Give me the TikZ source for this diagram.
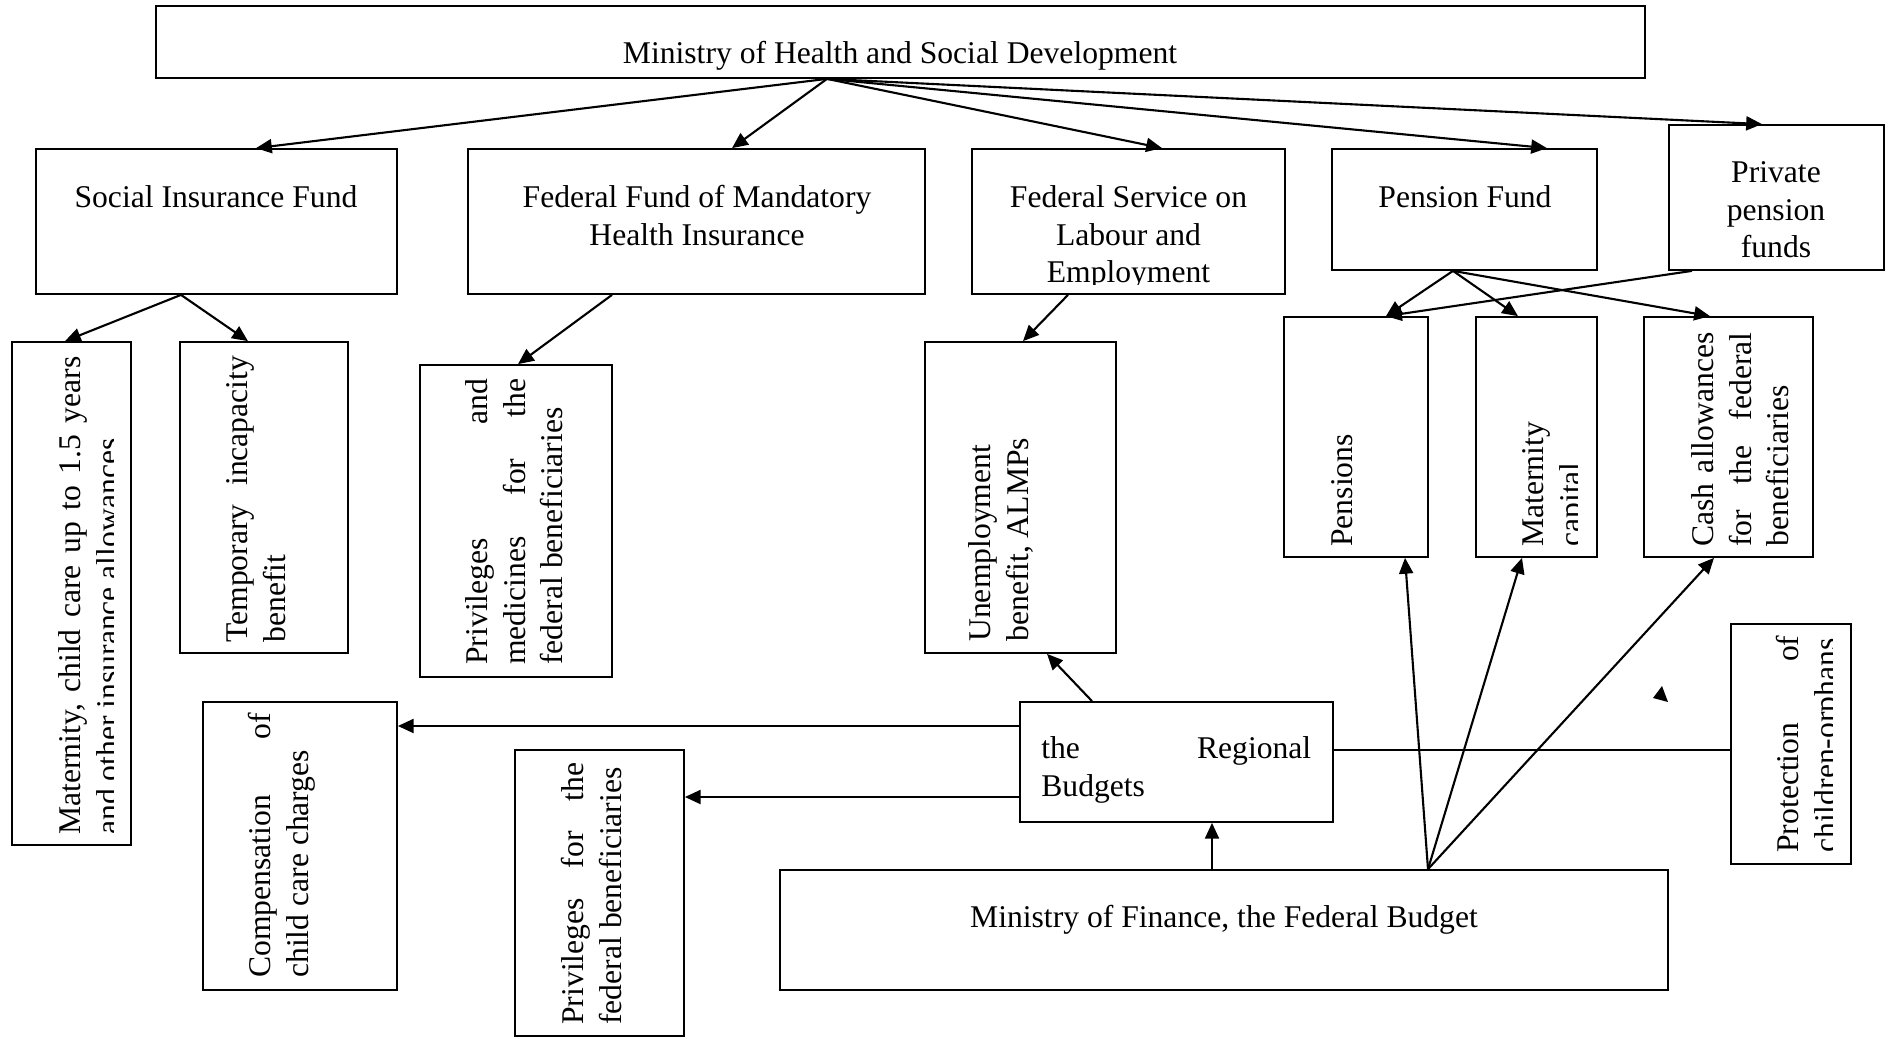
\documentclass[tikz,border=0pt]{standalone}
\usepackage{fontspec}
\setmainfont{Liberation Serif}
\usetikzlibrary{arrows.meta,fit}
\tikzset{
  box/.style={draw, line width=1pt, inner sep=0pt},
  arr/.style={line width=1.2pt, -{Triangle[length=9pt,width=8pt]}},
  plainline/.style={line width=1.2pt},
  txt/.style={inner sep=0pt, font=\fontsize{18}{21.3}\selectfont\frenchspacing},
  vtxt/.style={txt, rotate=90, anchor=north west, align=left},
}
\begin{document}
\begin{tikzpicture}[x=0.02cm, y=-0.02cm]
\path[fill=white, use as bounding box] (0,0) rectangle (1890,1038);

% ---------- boxes ----------
\node[box, fit={(156,6) (1645,78)}] (mohsd) {};
\node[box, fit={(36,149) (397,294)}] (sif) {};
\node[box, fit={(468,149) (925,294)}] (ffm) {};
\node[box, fit={(972,149) (1285,294)}] (fsle) {};
\node[box, fit={(1332,149) (1597,270)}] (pf) {};
\node[box, fit={(1669,125) (1884,270)}] (ppf) {};

\node[box, fit={(12,342) (131,845)}] (mat) {};
\node[box, fit={(180,342) (348,653)}] (tmp) {};
\node[box, fit={(420,365) (612,677)}] (priv1) {};
\node[box, fit={(925,342) (1116,653)}] (unemp) {};
\node[box, fit={(1284,317) (1428,557)}] (pens) {};
\node[box, fit={(1476,317) (1597,557)}] (matcap) {};
\node[box, fit={(1644,317) (1813,557)}] (cash) {};

\node[box, fit={(1020,702) (1333,822)}] (reg) {};
\node[box, fit={(780,870) (1668,990)}] (mof) {};
\node[box, fit={(203,702) (397,990)}] (comp) {};
\node[box, fit={(515,750) (684,1036)}] (priv2) {};
\node[box, fit={(1731,624) (1851,864)}] (prot) {};

% ---------- horizontal texts ----------
\node[txt, anchor=base] (tmohsd) at (900,63) {Ministry of Health and Social Development};
\node[txt, anchor=base] (tsif) at (216,207) {Social Insurance Fund};
\node[txt, anchor=north, align=center] (tffm) at (697,185.3) {Federal Fund of Mandatory\\Health Insurance};
\begin{scope}
  \clip (fsle.north west) rectangle (1285,284);
  \node[txt, anchor=north, align=center] (tfsle) at (1128.5,185.3) {Federal Service on\\Labour and\\Employment};
\end{scope}
\node[txt, anchor=base] (tpf) at (1465,207) {Pension Fund};
\node[txt, anchor=north, align=center] (tppf) at (1776,161.3) {Private\\pension\\funds};
\node[txt, anchor=north west, align=left] (treg) at (1041,736.3) {\hbox to 153.6pt{the Regional}\\Budgets};
\node[txt, anchor=base] (tmof) at (1224,927) {Ministry of Finance, the Federal Budget};

% ---------- rotated texts ----------
\begin{scope}
  \clip (mat.north west) rectangle (113,845);
  \node[vtxt] (tmat) at (58.3,835) {\hbox to 272.1pt{Maternity, child care up to 1.5 years}\\and other insurance allowances};
\end{scope}
\node[vtxt] (ttmp) at (226.3,643) {\hbox to 163.3pt{Temporary incapacity}\\benefit};
\node[vtxt] (tpriv1) at (465.3,665) {\hbox to 162.7pt{Privileges and}\\\hbox to 162.7pt{medicines for the}\\federal beneficiaries};
\node[vtxt] (tunemp) at (968.3,642) {Unemployment\\benefit, ALMPs};
\node[vtxt] (tpens) at (1331.3,547) {Pensions};
\begin{scope}
  \clip (matcap.north west) rectangle (1577,557);
  \node[vtxt] (tmatcap) at (1522.3,547) {Maternity\\capital};
\end{scope}
\node[vtxt] (tcash) at (1691.3,547) {\hbox to 121.9pt{Cash allowances}\\\hbox to 121.9pt{for the federal}\\beneficiaries};
\begin{scope}
  \clip (prot.north west) rectangle (1832,864);
  \node[vtxt] (tprot) at (1776.3,853) {\hbox to 123.6pt{Protection of}\\children-orphans};
\end{scope}
\node[vtxt] (tcomp) at (248.3,978) {\hbox to 150.8pt{Compensation of}\\child care charges};
\node[vtxt] (tpriv2) at (561.3,1025) {\hbox to 149.1pt{Privileges for the}\\federal beneficiaries};

% ---------- connectors ----------
\draw[arr] (mohsd.south -| 827,0) -- (sif.north -| 256,0);
\draw[arr] (mohsd.south -| 827,0) -- (ffm.north -| 732,0);
\draw[arr] (mohsd.south -| 827,0) -- (fsle.north -| 1162,0);
\draw[arr] (mohsd.south -| 827,0) -- (pf.north -| 1547,0);
\draw[arr] (mohsd.south -| 827,0) -- (ppf.north -| 1762,0);

\draw[arr] (sif.south -| 181,0) -- (mat.north -| 65,0);
\draw[arr] (sif.south -| 181,0) -- (tmp.north -| 248,0);
\draw[arr] (ffm.south -| 612,0) -- (priv1.north -| 518,0);
\draw[arr] (fsle.south -| 1068,0) -- (unemp.north -| 1023,0);

\draw[arr] (pf.south -| 1453,0) -- (pens.north -| 1386,0);
\draw[arr] (pf.south -| 1453,0) -- (matcap.north -| 1518,0);
\draw[arr] (pf.south -| 1453,0) -- (cash.north -| 1710,0);
\draw[arr] (ppf.south -| 1692,0) -- (pens.north -| 1386,0);

\draw[arr] (reg.north -| 1092,0) -- (unemp.south -| 1047,0);
\draw[arr] (reg.west |- 0,726) -- (comp.east |- 0,726);
\draw[arr] (reg.west |- 0,797) -- (priv2.east |- 0,797);
\draw[plainline] (reg.east |- 0,750) -- (prot.west |- 0,750);

\draw[arr] (mof.north -| 1212,0) -- (reg.south -| 1212,0);
\draw[arr] (mof.north -| 1428,0) -- (pens.south -| 1405,0);
\draw[arr] (mof.north -| 1428,0) -- (matcap.south -| 1522,0);
\draw[arr] (mof.north -| 1428,0) -- (cash.south -| 1714,0);

% stray arrowhead
\fill (1662,686) -- (1653,698) -- (1668,702) -- cycle;
\end{tikzpicture}
\end{document}
